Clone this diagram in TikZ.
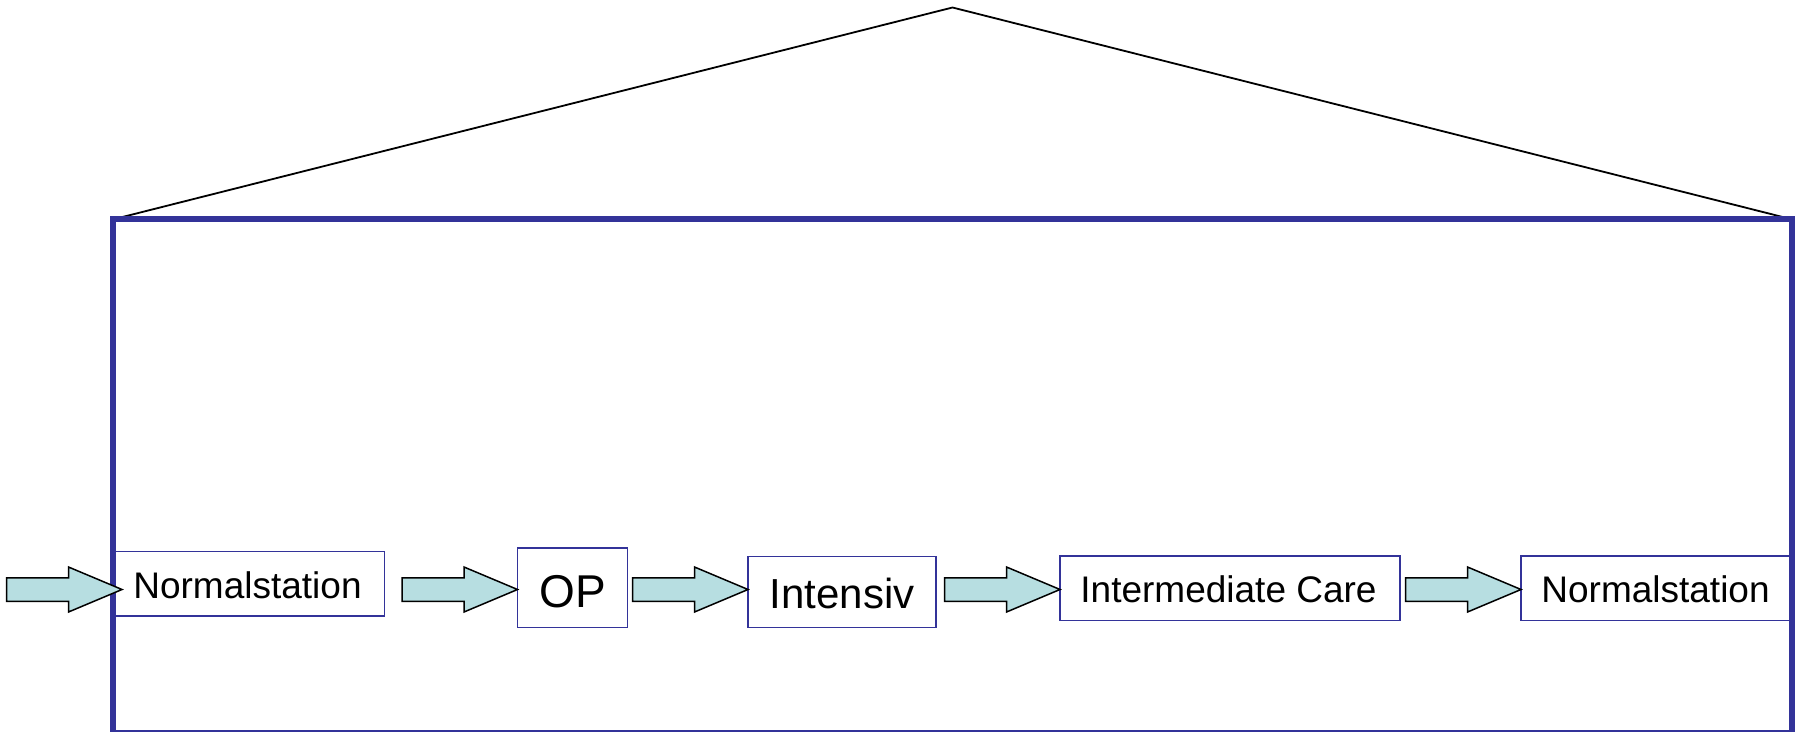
\documentclass[tikz,border=0pt]{standalone}
\usepackage{fontspec}
\setmainfont{Liberation Sans}
\usetikzlibrary{calc}
\definecolor{border}{RGB}{51,51,153}
\definecolor{arrowfill}{RGB}{183,222,225}
\newcommand\blockarrow[1]{\draw[blockarr] ($(#1)+(-115.5,-11.75)$) -- ++(62,0) -- ++(0,-10.75) -- (#1) -- ++(-53.5,22.5) -- ++(0,-10.75) -- ++(-62,0) -- cycle;}
\tikzset{
  house/.style={draw=border, line width=6pt, inner sep=0pt, outer sep=0pt},
  roof/.style={draw=black, line width=1.8pt, line join=miter},
  station/.style={draw=border, fill=white, line width=1.5pt, inner sep=0pt, outer sep=0pt},
  lbl/.style={anchor=base, inner sep=0pt, text=black},
  blockarr/.style={draw=black, fill=arrowfill, line width=1.5pt, line join=miter}
}
\begin{document}
\begin{tikzpicture}[x=1pt,y=-1pt]
\useasboundingbox (0,0) rectangle (1799,731);
\clip (0,0) rectangle (1799,731);
\fill[white] (0,0) rectangle (1799,731);
% house body
\node[house, minimum width=1678.5pt, minimum height=513.7pt] (body) at (952.55,476.15) {};
\coordinate (apex) at (952.5,7.5);
\draw[roof] (body.north west) -- (apex) -- (body.north east);
\node[house, minimum width=1678.5pt, minimum height=513.7pt] at (952.55,476.15) {};
% stations
\node[station, minimum width=269.3pt, minimum height=64.3pt] (b1) at (249.65,583.85) {};
\node[station, minimum width=110.1pt, minimum height=79.5pt] (op) at (572.55,587.75) {};
\node[station, minimum width=188pt, minimum height=70.7pt] (int) at (842,591.95) {};
\node[station, minimum width=340pt, minimum height=64.7pt] (ic) at (1230,588.35) {};
\node[station, minimum width=269pt, minimum height=64.7pt] (b2) at (1655.5,588.35) {};
% labels
\node[lbl, font=\fontsize{37}{40}\selectfont] (l1) at (247.5,598.3) {Normalstation};
\node[lbl, font=\fontsize{46}{50}\selectfont] (l2) at (572.5,607.3) {OP};
\node[lbl, font=\fontsize{42}{46}\selectfont] (l3) at (842,608.3) {Intensiv};
\node[lbl, font=\fontsize{37}{40}\selectfont] (l4) at (1228.5,602.3) {Intermediate Care};
\node[lbl, font=\fontsize{37}{40}\selectfont] (l5) at (1655.5,602.3) {Normalstation};
% arrows
\coordinate (row) at (0,589.5);
\coordinate (t1) at ($(b1.west |- row)+(7,0)$);
\coordinate (t2) at (op.west |- row);
\coordinate (t3) at (int.west |- row);
\coordinate (t4) at (ic.west |- row);
\coordinate (t5) at (b2.west |- row);
\blockarrow{t1}
\blockarrow{t2}
\blockarrow{t3}
\blockarrow{t4}
\blockarrow{t5}
\end{tikzpicture}
\end{document}
